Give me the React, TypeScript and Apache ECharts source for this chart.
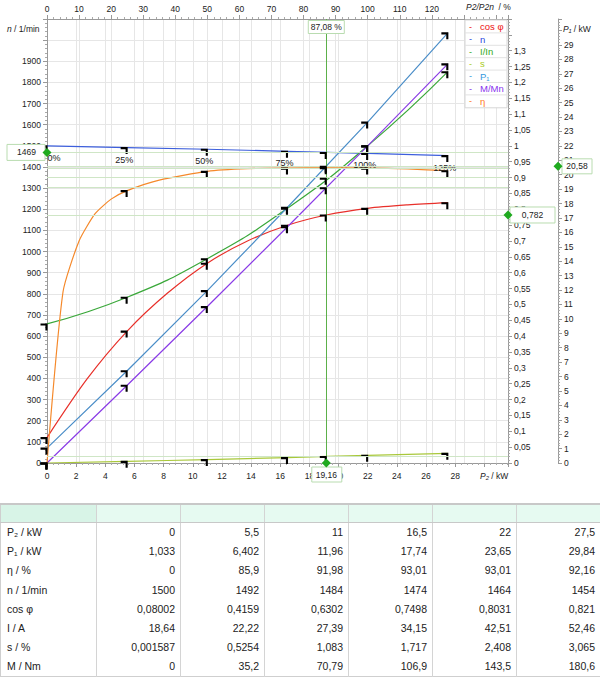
import React, { useEffect, useRef } from "react";
import * as echarts from "echarts";

// ---- data ----
const P2 = [0, 5.5, 11, 16.5, 22, 27.5];
const P1 = [1.033, 6.402, 11.96, 17.74, 23.65, 29.84];
const ETA = [0, 85.9, 91.98, 93.01, 93.01, 92.16];
const N = [1500, 1492, 1484, 1474, 1464, 1454];
const COSPHI = [0.08002, 0.4159, 0.6302, 0.7498, 0.8031, 0.821];
const CURRENT = [18.64, 22.22, 27.39, 34.15, 42.51, 52.46];
const SLIP = [0.001587, 0.5254, 1.083, 1.717, 2.408, 3.065];
const TORQUE = [0, 35.2, 70.79, 106.9, 143.5, 180.6];
const LOAD_PCT = ["0%", "25%", "50%", "75%", "100%", "125%"];
// efficiency curve as drawn (denser sampling)
const ETA_CURVE_P2 = [0, 1.1, 2.2, 3.3, 4.4, 5.5, 7.7, 11, 13.75, 16.5, 19.25, 22, 24.75, 27.5];
const ETA_CURVE = [0, 54, 70, 78.6, 83.2, 85.9, 89.2, 91.98, 92.8, 93.01, 93.1, 93.01, 92.7, 92.16];
// cos phi curve as drawn (denser sampling)
const COS_CURVE_P2 = [0, 2.75, 5.5, 8.25, 11, 13.75, 16.5, 19.16, 22, 24.75, 27.5];
const COS_CURVE = [0.08002, 0.265, 0.4159, 0.535, 0.6302, 0.7, 0.7498, 0.782, 0.8031, 0.814, 0.821];
const RATED_I = 42.51;
const RATED_M = 143.5;
// cursor readout
const CURSOR_P2 = 19.16;
const CURSOR_PCT_TEXT = "87,08 %";
const CURSOR_P2_TEXT = "19,16";
const CURSOR_N = 1469;
const CURSOR_COS = 0.782;
const CURSOR_P1 = 20.58;
const CURSOR_ETA = 0.931;
const CURSOR_IIN = 0.898;
const CURSOR_M = 0.868;
const CURSOR_S = 0.0206;
// axes
const X_MAX = 31.625;
const PCT_MAX = 143.75;
const N_MAX = 2100;
const REL_MAX = 1.4;
const P1_MAX = 30.8;

const TABLE_LABELS = ["P\u2082 / kW", "P\u2081 / kW", "\u03b7 / %", "n / 1/min", "cos \u03c6", "I / A", "s / %", "M / Nm"];
const TABLE_ROWS = [P2, P1, ETA, N, COSPHI, CURRENT, SLIP, TORQUE];

const SERIES_NAMES = ["cos \u03c6", "n", "I/In", "s", "P\u2081", "M/Mn", "\u03b7"];
const LINE_COLORS = ["#e8302a", "#3d5fdc", "#3aa83a", "#a9c83a", "#4b8ec8", "#8a3ce6", "#f5892b"];
const LEGEND_COLORS = ["#ee1111", "#2a48e0", "#33aa22", "#aacc22", "#3399dd", "#8833ee", "#ff7722"];

const FONT = "'Liberation Sans', Arial, Helvetica, sans-serif";
const MARK = "path://M0,0H10V10H7V3H0Z";

const fmt = (v: number) => String(parseFloat(v.toFixed(3))).replace(".", ",");

export default function App() {
  const ref = useRef<HTMLDivElement>(null);

  useEffect(() => {
    document.body.style.margin = "0";
    const chart = echarts.init(ref.current!, null, { renderer: "svg" });

    const lab = { color: "#222", fontSize: 8.5, fontFamily: FONT };
    const axLine = { show: true, onZero: false, lineStyle: { color: "#999" } };
    const tick = { show: true, length: 4, lineStyle: { color: "#999" } };
    const minor = (n: number) => ({ show: true, splitNumber: n, length: 2, lineStyle: { color: "#aaa" } });
    const split = { show: true, lineStyle: { color: "#e6e6e6", width: 1 } };

    const cursorMarks = (val: number) => ({
      silent: true,
      symbol: MARK,
      symbolSize: 7,
      symbolOffset: [-3, 3],
      itemStyle: { color: "#000" },
      label: { show: false },
      data: [{ coord: [CURSOR_P2, val] }],
    });
    const hLine = (val: number) => ({
      silent: true,
      symbol: "none",
      label: { show: false },
      lineStyle: { color: "#cfe6c6", width: 1, type: "solid" },
      data: [{ yAxis: val }],
    });

    const base = (i: number, yAxisIndex: number, data: any[], extra: any = {}) => ({
      type: "line",
      name: SERIES_NAMES[i],
      xAxisIndex: 0,
      yAxisIndex,
      data,
      smooth: 0.5,
      symbol: MARK,
      symbolSize: 7,
      symbolOffset: [-3, 3],
      showAllSymbol: true,
      itemStyle: { color: "#000" },
      lineStyle: { color: LINE_COLORS[i], width: 1.2 },
      ...extra,
    });

    const option: any = {
      animation: false,
      grid: { left: 47, right: 92, top: 19, bottom: 32 },
      xAxis: [
        {
          type: "value", position: "bottom", min: 0, max: X_MAX, interval: 2,
          axisLine: axLine, axisTick: tick, minorTick: minor(5),
          axisLabel: { ...lab, margin: 8, showMaxLabel: false, formatter: (v: number) => (v > 28 ? "" : String(v)) },
          splitLine: split,
        },
        {
          type: "value", position: "top", min: 0, max: PCT_MAX, interval: 10,
          axisLine: axLine, axisTick: tick, minorTick: minor(5),
          axisLabel: { ...lab, margin: 6, showMaxLabel: false, formatter: (v: number) => (v > 120 ? "" : String(v)) },
          splitLine: split,
        },
      ],
      yAxis: [
        {
          type: "value", position: "left", min: 0, max: N_MAX, interval: 100,
          axisLine: axLine, axisTick: tick, minorTick: minor(5),
          axisLabel: { ...lab, margin: 6, showMaxLabel: false, formatter: (v: number) => (v > 1900 ? "" : String(v)) },
          splitLine: split,
        },
        {
          type: "value", position: "right", min: 0, max: REL_MAX, interval: 0.05,
          axisLine: axLine, axisTick: tick, minorTick: minor(5),
          axisLabel: { ...lab, margin: 6, showMaxLabel: false, formatter: (v: number) => (v > 1.31 ? "" : fmt(v)) },
          splitLine: { show: false },
        },
        {
          type: "value", position: "right", offset: 50, min: 0, max: P1_MAX, interval: 1,
          axisLine: axLine, axisTick: tick, minorTick: minor(5),
          axisLabel: { ...lab, margin: 6, showMaxLabel: false, formatter: (v: number) => (v > 29 ? "" : String(v)) },
          splitLine: { show: false },
        },
      ],
      series: [
        base(0, 1, COS_CURVE_P2.map((x, i) => ({ value: [x, COS_CURVE[i]], symbol: P2.includes(x) ? MARK : "none" })), {
          smooth: 0.3,
          markPoint: cursorMarks(CURSOR_COS),
          markLine: hLine(CURSOR_COS),
        }),
        base(1, 0, P2.map((x, i) => ({
          value: [x, N[i]],
          label: i === 0 ? { offset: [10, 0] } : undefined,
        })), {
          smooth: false,
          label: {
            show: true, position: "bottom", distance: 1, color: "#222", fontSize: 9, fontFamily: FONT,
            formatter: (p: any) => LOAD_PCT[p.dataIndex],
          },
          markPoint: cursorMarks(CURSOR_N),
          markLine: {
            silent: true, symbol: "none", label: { show: false },
            data: [
              { yAxis: CURSOR_N, lineStyle: { color: "#cfe6c6", width: 1, type: "solid" } },
              { xAxis: CURSOR_P2, lineStyle: { color: "#5cb04a", width: 1, type: "solid" } },
            ],
          },
        }),
        base(2, 1, P2.map((x, i) => [x, CURRENT[i] / RATED_I]), { markPoint: cursorMarks(CURSOR_IIN), markLine: hLine(CURSOR_IIN) }),
        base(3, 1, P2.map((x, i) => [x, SLIP[i] / 100]), { markPoint: cursorMarks(CURSOR_S), markLine: hLine(CURSOR_S) }),
        base(4, 2, P2.map((x, i) => [x, P1[i]]), { smooth: false, markPoint: cursorMarks(CURSOR_P1), markLine: hLine(CURSOR_P1) }),
        base(5, 1, P2.map((x, i) => [x, TORQUE[i] / RATED_M]), { smooth: false, markPoint: cursorMarks(CURSOR_M), markLine: hLine(CURSOR_M) }),
        base(6, 1, ETA_CURVE_P2.map((x, i) => ({ value: [x, ETA_CURVE[i] / 100], symbol: P2.includes(x) ? MARK : "none" })), {
          smooth: 0.2,
          markPoint: cursorMarks(CURSOR_ETA),
          markLine: hLine(CURSOR_ETA),
        }),
      ],
    };
    chart.setOption(option);

    // positions from the library's own scales
    const cx = chart.convertToPixel({ xAxisIndex: 0 }, CURSOR_P2) as number;
    const x0 = chart.convertToPixel({ xAxisIndex: 0 }, 0) as number;
    const x1 = chart.convertToPixel({ xAxisIndex: 0 }, X_MAX) as number;
    const y0 = chart.convertToPixel({ yAxisIndex: 0 }, 0) as number;
    const yTop = chart.convertToPixel({ yAxisIndex: 0 }, N_MAX) as number;
    const yN = chart.convertToPixel({ yAxisIndex: 0 }, CURSOR_N) as number;
    const yCos = chart.convertToPixel({ yAxisIndex: 1 }, CURSOR_COS) as number;
    const yP1 = chart.convertToPixel({ yAxisIndex: 2 }, CURSOR_P1) as number;
    const xP1Axis = x1 + 50;

    const boxStyle = { fill: "#fff", stroke: "#b9dcb0", lineWidth: 1 };
    const txt = (x: number, y: number, text: string, align = "center", extra: any = {}) => ({
      type: "text", x, y, z: 110,
      style: { text, fill: "#222", font: `8.5px ${FONT}`, align, verticalAlign: "middle", ...extra },
    });
    const diamond = (x: number, y: number) => ({
      type: "polygon", z: 111,
      shape: { points: [[x, y - 4.5], [x + 4.5, y], [x, y + 4.5], [x - 4.5, y]] },
      style: { fill: "#1faa1f" },
    });
    const box = (x: number, y: number, w: number, h: number) => ({
      type: "rect", z: 105, shape: { x, y, width: w, height: h }, style: boxStyle,
    });

    const legendTop = yTop + 1;
    const rowH = 12.4;
    const legendX = x1 - 43;
    const legend: any[] = [
      { type: "rect", z: 100, shape: { x: legendX, y: legendTop, width: 42, height: rowH * SERIES_NAMES.length + 1 }, style: { fill: "#fff", stroke: "#d6d6d6", lineWidth: 1 } },
    ];
    SERIES_NAMES.forEach((name, i) => {
      const cy = legendTop + rowH * i + rowH / 2 + 0.5;
      if (i > 0) {
        legend.push({ type: "line", z: 101, shape: { x1: legendX, y1: legendTop + rowH * i + 0.5, x2: legendX + 42, y2: legendTop + rowH * i + 0.5 }, style: { stroke: "#e2e2e2", lineWidth: 1 } });
      }
      legend.push(txt(legendX + 4, cy, "-", "left", { fill: LEGEND_COLORS[i], font: `9px ${FONT}` }));
      legend.push(txt(legendX + 15, cy, name, "left", { fill: LEGEND_COLORS[i], font: `9.5px ${FONT}` }));
    });

    chart.setOption({
      graphic: [
        ...legend,
        // axis titles
        {
          type: "text", z: 110, x: 7, y: 29,
          style: { text: "{i|n} / 1/min", font: `8.5px ${FONT}`, fill: "#222", verticalAlign: "middle", rich: { i: { font: `italic 8.5px ${FONT}` } } },
        },
        {
          type: "text", z: 110, x: xP1Axis + 5, y: 29,
          style: { text: "{i|P\u2081} / kW", font: `8.5px ${FONT}`, fill: "#222", verticalAlign: "middle", rich: { i: { font: `italic 8.5px ${FONT}` } } },
        },
        {
          type: "text", z: 110, x: x1 - 42, y: 7,
          style: { text: "{i|P2/P2n}  / %", font: `8.5px ${FONT}`, fill: "#222", verticalAlign: "middle", rich: { i: { font: `italic 8.5px ${FONT}` } } },
        },
        {
          type: "text", z: 110, x: x1 - 28, y: y0 + 13,
          style: { text: "{i|P\u2082} / kW", font: `8.5px ${FONT}`, fill: "#222", verticalAlign: "middle", rich: { i: { font: `italic 8.5px ${FONT}` } } },
        },
        // cursor readouts
        box(cx - 18, yTop + 1.5, 36, 13),
        txt(cx, yTop + 8, CURSOR_PCT_TEXT),
        box(cx - 14.5, y0 + 4, 30, 15),
        txt(cx, y0 + 11.5, CURSOR_P2_TEXT),
        diamond(cx, y0),
        box(7, yN - 8, 38, 16),
        txt(26.5, yN, String(CURSOR_N)),
        diamond(x0, yN),
        box(x1 + 2, yCos - 8, 45, 16),
        txt(x1 + 24.5, yCos, fmt(CURSOR_COS)),
        diamond(x1, yCos),
        box(xP1Axis + 4, yP1 - 7.5, 30, 15),
        txt(xP1Axis + 19, yP1, fmt(CURSOR_P1)),
        diamond(xP1Axis, yP1),
      ],
    });

    return () => chart.dispose();
  }, []);

  const cell: React.CSSProperties = {
    borderLeft: "1px solid #d4d4d4",
    textAlign: "right",
    padding: "0 5px 0 0",
    height: 19.3,
    boxSizing: "border-box",
  };

  return (
    <div style={{ position: "relative", width: 600, height: 677, fontFamily: FONT, background: "#fff" }}>
      <div ref={ref} style={{ position: "absolute", left: 0, top: 0, width: 600, height: 495 }} />
      <table
        style={{
          position: "absolute", left: 0, top: 503, width: 600, borderCollapse: "collapse", tableLayout: "fixed",
          fontSize: 10.5, color: "#222", fontFamily: FONT, border: "1px solid #cfcfcf",
        }}
      >
        <colgroup>
          <col style={{ width: 96 }} />
          {P2.map((_, i) => <col key={i} style={{ width: 84 }} />)}
        </colgroup>
        <thead>
          <tr style={{ height: 18 }}>
            <th style={{ background: "#d8f4e7", borderTop: "2px solid #c8c8c8", borderBottom: "1px solid #c8c8c8", padding: 0 }} />
            {P2.map((_, i) => (
              <th key={i} style={{ background: "#e6faf1", borderLeft: "1px solid #d4d4d4", borderTop: "2px solid #c8c8c8", borderBottom: "1px solid #c8c8c8", padding: 0 }} />
            ))}
          </tr>
        </thead>
        <tbody>
          {TABLE_LABELS.map((label, r) => (
            <tr key={r}>
              <td style={{ ...cell, borderLeft: "none", textAlign: "left", padding: "0 0 0 6px" }}>{label}</td>
              {TABLE_ROWS[r].map((v, c) => (
                <td key={c} style={cell}>{String(v).replace(".", ",")}</td>
              ))}
            </tr>
          ))}
        </tbody>
      </table>
    </div>
  );
}
